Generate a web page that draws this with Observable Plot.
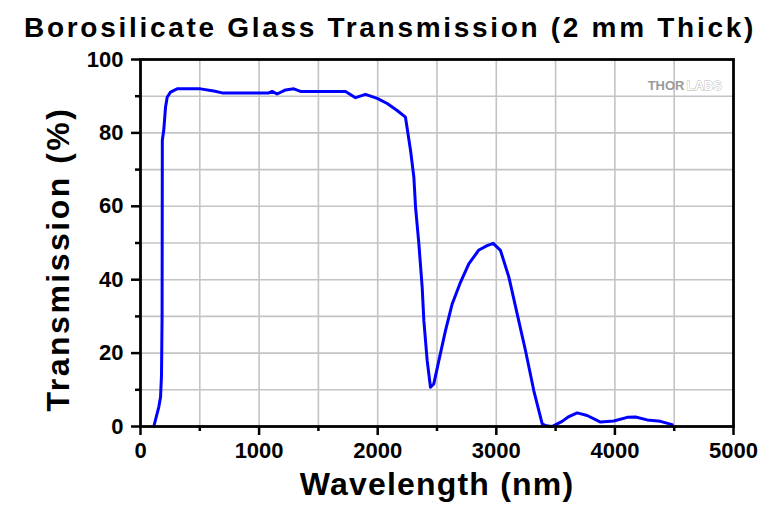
<!DOCTYPE html>
<html>
<head>
<meta charset="utf-8">
<script src="https://cdn.jsdelivr.net/npm/d3@7"></script>
<script src="https://cdn.jsdelivr.net/npm/@observablehq/plot@0.6"></script>
<style>
  html, body { margin: 0; padding: 0; background: #fff; }
  #title { height: 50px; width: 780px; font-family: "Liberation Sans", Arial, sans-serif; font-weight: bold;
           font-size: 28px; letter-spacing: 2.7px; text-align: center; line-height: 56px; color: #000; white-space: nowrap; }
  svg { overflow: visible; }
</style>
</head>
<body>
<div id="title">Borosilicate Glass Transmission (2 mm Thick)</div>
<div id="chart"></div>
<script>
const wavelength = [112, 154, 169, 177, 182, 184, 196, 211, 225, 253, 309, 506, 618, 689, 1082, 1110, 1152, 1223, 1293, 1349, 1729, 1813, 1897, 1996, 2080, 2164, 2234, 2277, 2305, 2319, 2347, 2375, 2389, 2417, 2445, 2473, 2516, 2572, 2628, 2698, 2768, 2853, 2923, 2974, 3035, 3106, 3176, 3246, 3316, 3387, 3420, 3470, 3555, 3612, 3682, 3766, 3879, 3991, 4104, 4174, 4272, 4384, 4483];
const transmission = [0, 5.3, 8, 13.9, 30, 78, 80.7, 87, 89.7, 91.1, 92, 92, 91.4, 90.9, 90.9, 91.3, 90.6, 91.7, 92, 91.3, 91.3, 89.6, 90.5, 89.4, 88, 86.1, 84.3, 75.2, 67.9, 59.8, 49.8, 38, 28.9, 18, 10.7, 11.6, 18, 26.2, 33.4, 39.3, 44.3, 48.1, 49.3, 49.9, 48, 40.7, 30.7, 20.7, 9.8, 0.7, 0.2, 0, 1.4, 2.7, 3.7, 3, 1.2, 1.5, 2.5, 2.6, 1.8, 1.4, 0.5];
const xMajorTicks = [0, 1000, 2000, 3000, 4000, 5000];
const xMinorTicks = [500, 1500, 2500, 3500, 4500];
const xGrid = [500, 1000, 1500, 2000, 2500, 3000, 3500, 4000, 4500];
const yMajorTicks = [0, 20, 40, 60, 80, 100];
const yMinorTicks = [10, 30, 50, 70, 90];
const yGrid = [10, 20, 30, 40, 50, 60, 70, 80, 90];
const xLabel = "Wavelength (nm)";
const yLabel = "Transmission (%)";

const data = wavelength.map((w, i) => ({w, t: transmission[i]}));

const chart = Plot.plot({
  width: 780,
  height: 462,
  marginTop: 9,
  marginLeft: 140,
  marginRight: 47,
  marginBottom: 86,
  style: {fontFamily: "Liberation Sans, Arial, sans-serif", background: "#fff", overflow: "visible"},
  x: {domain: [0, 5000]},
  y: {domain: [0, 100]},
  marks: [
    Plot.gridX(xGrid, {stroke: "#c4c4c4", strokeOpacity: 1, strokeWidth: 1.6}),
    Plot.gridY(yGrid, {stroke: "#c4c4c4", strokeOpacity: 1, strokeWidth: 1.6}),
    Plot.line(data, {x: "w", y: "t", stroke: "#0000ff", strokeWidth: 3}),
    Plot.frame({stroke: "#000", strokeWidth: 2.8}),
    Plot.axisX(xMajorTicks, {tickSize: 9, tickPadding: 7, strokeWidth: 2.5, fontSize: 22, fontWeight: "bold", label: null, tickFormat: d => String(d)}),
    Plot.axisX(xMinorTicks, {tickSize: 5, strokeWidth: 2.5, text: null, label: null}),
    Plot.axisY(yMajorTicks, {tickSize: 9, tickPadding: 8, strokeWidth: 2.5, fontSize: 22, fontWeight: "bold", label: null}),
    Plot.axisY(yMinorTicks, {tickSize: 5, strokeWidth: 2.5, text: null, label: null}),
    Plot.text([xLabel], {frameAnchor: "bottom", dy: 68, fontSize: 32, fontWeight: "bold", fill: "#000"}),
    Plot.text([yLabel], {frameAnchor: "left", textAnchor: "middle", dx: -82, dy: 16, rotate: -90, fontSize: 32, fontWeight: "bold", fill: "#000"}),
    Plot.text(["THOR"], {frameAnchor: "top-right", dx: -49, dy: 21, textAnchor: "end", fontSize: 13, fontWeight: "bold", fill: "#9a9a9a"}),
    Plot.text(["LABS"], {frameAnchor: "top-right", dx: -47, dy: 21, textAnchor: "start", fontSize: 13, fontWeight: "bold", fill: "#fff", stroke: "#b0b0b0", strokeWidth: 0.8})
  ]
});
document.getElementById("chart").appendChild(chart);
chart.querySelectorAll("text").forEach(t => {
  const s = t.textContent;
  if (s === yLabel) t.setAttribute("letter-spacing", "2.5");
  if (s === xLabel) t.setAttribute("letter-spacing", "1.2");
});
</script>
</body>
</html>
